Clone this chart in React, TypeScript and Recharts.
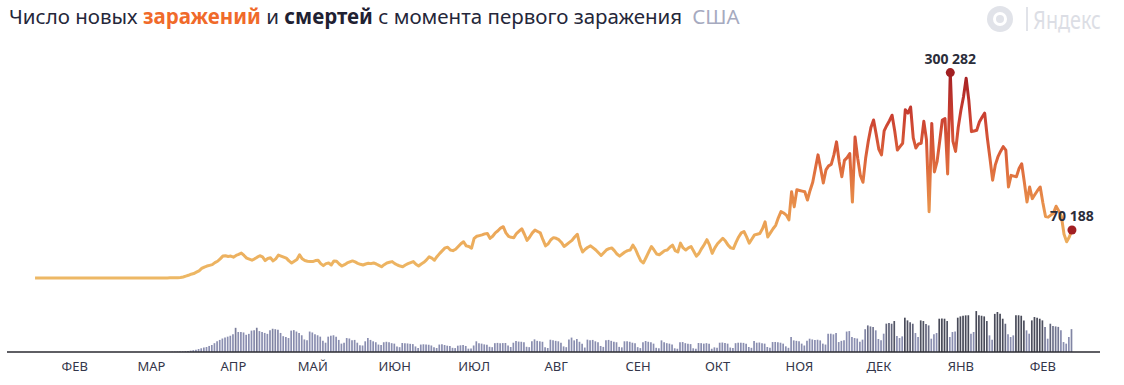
import React from 'react';
import { ComposedChart, Line, Bar, XAxis, YAxis, Cell } from 'recharts';

// new cases per day, USA; first value is 17 Jan 2020, one array per month
const casesJan20 = [0, 0, 0, 0, 1, 0, 0, 1, 0, 2, 0, 0, 1, 0, 1];
const casesFeb20 = [0, 1, 0, 0, 0, 0, 1, 0, 0, 0, 1, 0, 0, 0, 0, 1, 0, 0, 0, 0, 1, 3, 0, 2, 1, 6, 3, 8, 12];
const casesMar20 = [20, 30, 45, 60, 80, 110, 160, 220, 290, 380, 500, 700, 1500, 2800, 4000, 5600, 6500, 8500, 10500, 14000, 16000, 17500, 18500, 19500, 22500, 24500, 28000, 32000, 32500, 31500, 32000];
const casesApr20 = [30500, 33000, 34500, 36500, 33000, 29000, 27500, 26000, 28000, 30500, 32500, 31000, 25500, 28500, 29500, 25000, 28000, 33500, 32000, 30500, 29000, 25000, 22000, 24500, 27000, 34000, 28000, 25500, 24500, 24000];
const casesMay20 = [24000, 25500, 26000, 21000, 18000, 21000, 22000, 19000, 25000, 24500, 20500, 17500, 19500, 22000, 23500, 25000, 23500, 21500, 20000, 19000, 20500, 21500, 21000, 22000, 20500, 18500, 16500, 19500, 22000, 23000, 24000];
const casesJun20 = [21000, 19000, 17500, 16500, 19000, 21000, 22500, 24000, 20000, 17500, 20500, 23000, 26500, 31000, 29000, 26000, 31500, 36000, 40000, 44000, 45000, 41000, 40000, 42000, 46000, 50000, 53000, 47000, 46000, 43500];
const casesJul20 = [58000, 61000, 62000, 63000, 64500, 65000, 58000, 61000, 66000, 69000, 73000, 75000, 66000, 61000, 59500, 59000, 65000, 68500, 72000, 64000, 55000, 60000, 66000, 70000, 68000, 66000, 56000, 47000, 50000, 56000, 59000];
const casesAug20 = [58000, 56000, 52000, 46000, 49000, 52000, 55000, 60000, 64000, 48000, 38000, 42000, 45000, 47000, 44000, 41000, 37000, 33000, 37000, 41000, 43000, 44000, 40000, 35000, 32000, 35000, 38000, 40000, 41000, 48000, 42000];
const casesSep20 = [33000, 25000, 22000, 30000, 38000, 46000, 41000, 35000, 34000, 37000, 40000, 41000, 45000, 48000, 40000, 38000, 51000, 44000, 41000, 44000, 46000, 39000, 32000, 36000, 43000, 49000, 56000, 48000, 36000, 44000];
const casesOct20 = [50000, 54000, 58000, 54000, 48000, 44000, 43000, 52000, 60000, 66000, 68000, 60000, 51000, 57000, 63000, 64000, 65000, 72000, 82000, 60000, 66000, 72000, 77000, 88000, 97000, 95000, 92000, 85000, 126000, 104000, 129000];
const casesNov20 = [128000, 127000, 126000, 114000, 128000, 140000, 160000, 180000, 160000, 139000, 158000, 164000, 166000, 180000, 199000, 170000, 148000, 172000, 176000, 182000, 111000, 206000, 175000, 150000, 140000, 175000, 200000, 220000, 231000, 210000];
const casesDec20 = [188000, 180000, 215000, 223000, 230000, 238000, 215000, 187000, 192000, 197000, 246000, 241000, 250000, 205000, 190000, 196000, 197000, 229000, 202000, 97000, 226000, 155000, 170000, 200000, 231000, 233000, 152000, 300282, 200000, 185000, 220000];
const casesJan21 = [245000, 265000, 292000, 260000, 214000, 215000, 216000, 228000, 235000, 241000, 205000, 175000, 143000, 165000, 177000, 185000, 192000, 187000, 133000, 150000, 149000, 148000, 160000, 167000, 140000, 111000, 133000, 116000, 122000, 128000, 133000];
const casesFeb21 = [110000, 90000, 89000, 92000, 95000, 105000, 98000, 90000, 64000, 53000, 60000, 70188];

// deaths per day, same days
const deathsJan20 = [0, 0, 0, 0, 0, 0, 0, 0, 0, 0, 0, 0, 0, 0, 0];
const deathsFeb20 = [0, 0, 0, 0, 0, 0, 0, 0, 0, 0, 0, 0, 0, 0, 0, 0, 0, 0, 0, 0, 0, 0, 0, 0, 0, 0, 1, 0, 1];
const deathsMar20 = [2, 3, 5, 6, 8, 10, 12, 15, 25, 30, 40, 50, 60, 80, 110, 150, 200, 250, 320, 400, 480, 540, 650, 750, 950, 1150, 1300, 1450, 1550, 1650, 1750];
const deathsApr20 = [1900, 2600, 2150, 2150, 2100, 1850, 1950, 2300, 2350, 2600, 2250, 2150, 2050, 1950, 2350, 2500, 2450, 2400, 2050, 1700, 1600, 1500, 2300, 2350, 2200, 2050, 1800, 1350, 1250, 2200];
const deathsMay20 = [2100, 1900, 1800, 1650, 1200, 1000, 1650, 1750, 1800, 1650, 1300, 900, 1000, 1500, 1450, 1250, 1300, 1000, 720, 700, 1150, 1500, 1300, 1150, 1050, 800, 750, 1050, 1100, 1050, 950];
const deathsJun20 = [900, 600, 520, 970, 950, 920, 880, 850, 600, 430, 800, 830, 800, 780, 700, 500, 430, 800, 820, 750, 680, 650, 450, 420, 680, 720, 740, 650, 360, 370];
const deathsJul20 = [700, 1150, 950, 900, 820, 780, 560, 520, 950, 980, 950, 960, 970, 700, 540, 1000, 1180, 1120, 1100, 1050, 560, 520, 1150, 1360, 1200, 1150, 1100, 500, 430, 1320, 1250];
const deathsAug20 = [1200, 1150, 1000, 600, 520, 1350, 1550, 1250, 1400, 1100, 900, 480, 1330, 1250, 1300, 1150, 1050, 650, 550, 1250, 1300, 1200, 1100, 1050, 550, 500, 1150, 1150, 1100, 1000, 950];
const deathsSep20 = [520, 420, 1050, 1180, 1100, 1050, 900, 450, 400, 1250, 1050, 950, 900, 800, 400, 350, 1050, 1070, 950, 900, 850, 400, 350, 970, 950, 900, 950, 900, 350, 500];
const deathsOct20 = [450, 1000, 1020, 980, 900, 480, 420, 950, 1000, 1000, 980, 900, 540, 450, 1180, 1000, 1020, 950, 900, 540, 450, 1070, 1080, 1050, 1000, 900, 610, 450, 1610, 1250, 1200];
const deathsNov20 = [1150, 900, 700, 1200, 1430, 1350, 1300, 1320, 1250, 900, 800, 1950, 1970, 1900, 2040, 1070, 1200, 1250, 2200, 2250, 1610, 1500, 1450, 1100, 1330, 2450, 2860, 2750, 2700, 2330];
const deathsDec20 = [1400, 1250, 1970, 3050, 3110, 3040, 3330, 1720, 1500, 1680, 3690, 3400, 3200, 3040, 2040, 1610, 3400, 3330, 3000, 2860, 1430, 1900, 2040, 3580, 3600, 3580, 3330, 1610, 2150, 2200, 3690];
const deathsJan21 = [3830, 3900, 3940, 3950, 1970, 2150, 4401, 3940, 3900, 3830, 3330, 1790, 1330, 4100, 4300, 4120, 3580, 3040, 1900, 1610, 1790, 3940, 3950, 3900, 3400, 2330, 1970, 3400, 3760, 3690, 3580];
const deathsFeb21 = [3400, 2680, 1430, 3040, 2800, 2750, 2700, 2330, 1070, 900, 1610, 2459];

const monthLabels = ['ФЕВ', 'МАР', 'АПР', 'МАЙ', 'ИЮН', 'ИЮЛ', 'АВГ', 'СЕН', 'ОКТ', 'НОЯ', 'ДЕК', 'ЯНВ', 'ФЕВ'];

const caseMonths = [casesJan20, casesFeb20, casesMar20, casesApr20, casesMay20, casesJun20, casesJul20, casesAug20, casesSep20, casesOct20, casesNov20, casesDec20, casesJan21, casesFeb21];
const deathMonths = [deathsJan20, deathsFeb20, deathsMar20, deathsApr20, deathsMay20, deathsJun20, deathsJul20, deathsAug20, deathsSep20, deathsOct20, deathsNov20, deathsDec20, deathsJan21, deathsFeb21];

const cases = caseMonths.flat();
const deaths = deathMonths.flat();
const data = cases.map((c, i) => ({ day: i, cases: c, deaths: deaths[i] }));

// first day of every month after the partial January
const monthStarts: number[] = [];
caseMonths.reduce((acc, m, i) => {
    if (i > 0) monthStarts.push(acc);
    return acc + m.length;
}, 0);

const lastIdx = data.length - 1;
const maxCaseIdx = cases.indexOf(Math.max(...cases));
const maxDeathIdx = deaths.indexOf(Math.max(...deaths));

const fmt = (v: number) => String(v).replace(/\B(?=(\d{3})+(?!\d))/g, ' ');

const lerp = (a: number[], b: number[], t: number) =>
    `rgb(${a.map((v, k) => Math.round(v + (b[k] - v) * t)).join(',')})`;

const barColor = (v: number) => {
    const t = Math.max(0, Math.min(1, (v - 2300) / 1200));
    return lerp([138, 142, 176], [72, 74, 88], t);
};

const FONT = '"Noto Sans", "Open Sans", Arial, sans-serif';

const CaseDot = (props: any) => {
    const { cx, cy, index } = props;
    if (index !== maxCaseIdx && index !== lastIdx) return <g key={`d${index}`} />;
    return <circle key={`d${index}`} cx={cx} cy={cy} r={4.5} fill="#a11f22" />;
};

const CaseLabel = (props: any) => {
    const { x, y, index, value } = props;
    if (index !== maxCaseIdx && index !== lastIdx) return null;
    return (
        <text x={x} y={y - 9} textAnchor="middle" fontSize={14} fontWeight={700} fill="#2b2d3a" fontFamily={FONT}>
            {fmt(value)}
        </text>
    );
};

const DeathLabel = (props: any) => {
    const { x, y, width, index, value } = props;
    if (index !== maxDeathIdx && index !== lastIdx) return null;
    return (
        <text x={x + width / 2} y={y - 4} textAnchor="middle" fontSize={14} fontWeight={700} fill="#2b2d3a" fontFamily={FONT}>
            {fmt(value)}
        </text>
    );
};

export default function App() {
    return (
        <div style={{ position: 'relative', width: 1124, height: 385, background: '#fff', fontFamily: FONT, overflow: 'hidden' }}>
            <style>{`body{margin:0}`}</style>
            <div style={{ position: 'absolute', left: 9, top: 2, fontSize: 20.5, lineHeight: '28px', color: '#25273a', whiteSpace: 'nowrap' }}>
                Число новых <b style={{ color: '#f06a2a' }}>заражений</b> и <b style={{ color: '#1f2132' }}>смертей</b> с момента первого заражения
                <span style={{ color: '#a6aabf', marginLeft: 10 }}>США</span>
            </div>
            {/* Yandex mark */}
            <div style={{ position: 'absolute', left: 987, top: 6, width: 26, height: 26, borderRadius: '50%', background: '#e1e3e9' }}>
                <div style={{ position: 'absolute', left: 6, top: 6, width: 14, height: 14, borderRadius: '50%', background: '#fff' }} />
                <div style={{ position: 'absolute', left: 9, top: 9, width: 8, height: 8, borderRadius: '50%', background: '#e1e3e9' }} />
            </div>
            <div style={{ position: 'absolute', left: 1026, top: 7, width: 1.5, height: 24, background: '#e1e3e9' }} />
            <div style={{ position: 'absolute', right: 23, top: 1, fontSize: 26, lineHeight: '36px', color: '#dcdee5', transform: 'scaleX(0.76)', transformOrigin: 'right top', whiteSpace: 'nowrap' }}>
                Яндекс
            </div>

            <div style={{ position: 'absolute', left: 0, top: 0 }}>
                <ComposedChart width={1124} height={385} data={data} margin={{ top: 40, right: 24, bottom: 3, left: 7 }}>
                    <defs>
                        <linearGradient id="caseGrad" gradientUnits="userSpaceOnUse" x1="0" y1="73" x2="0" y2="278">
                            <stop offset="0%" stopColor="#a41f22" />
                            <stop offset="22%" stopColor="#cc4232" />
                            <stop offset="45%" stopColor="#de6a3c" />
                            <stop offset="65%" stopColor="#e8904b" />
                            <stop offset="80%" stopColor="#ecab5b" />
                            <stop offset="100%" stopColor="#edb865" />
                        </linearGradient>
                    </defs>
                    <XAxis
                        dataKey="day"
                        type="number"
                        domain={[-10.6, 402.6]}
                        allowDataOverflow
                        ticks={monthStarts}
                        interval={0}
                        tickFormatter={(v: number) => monthLabels[monthStarts.indexOf(v)] ?? ''}
                        tickLine={false}
                        tickMargin={4}
                        height={30}
                        axisLine={{ stroke: '#2a2a30', strokeWidth: 1.5 }}
                        tick={{ fill: '#34364a', fontSize: 13, fontFamily: FONT }}
                    />
                    <YAxis yAxisId="cases" hide domain={[-108190, 347954]} allowDataOverflow />
                    <YAxis yAxisId="deaths" hide domain={[0, 33548]} allowDataOverflow />
                    <Bar yAxisId="deaths" dataKey="deaths" barSize={1.7} isAnimationActive={false} label={DeathLabel}>
                        {data.map((d) => (
                            <Cell key={d.day} fill={barColor(d.deaths)} />
                        ))}
                    </Bar>
                    <Line
                        yAxisId="cases"
                        dataKey="cases"
                        type="linear"
                        stroke="url(#caseGrad)"
                        strokeWidth={3}
                        strokeLinejoin="round"
                        dot={CaseDot}
                        activeDot={false}
                        label={CaseLabel}
                        isAnimationActive={false}
                    />
                </ComposedChart>
            </div>
        </div>
    );
}
